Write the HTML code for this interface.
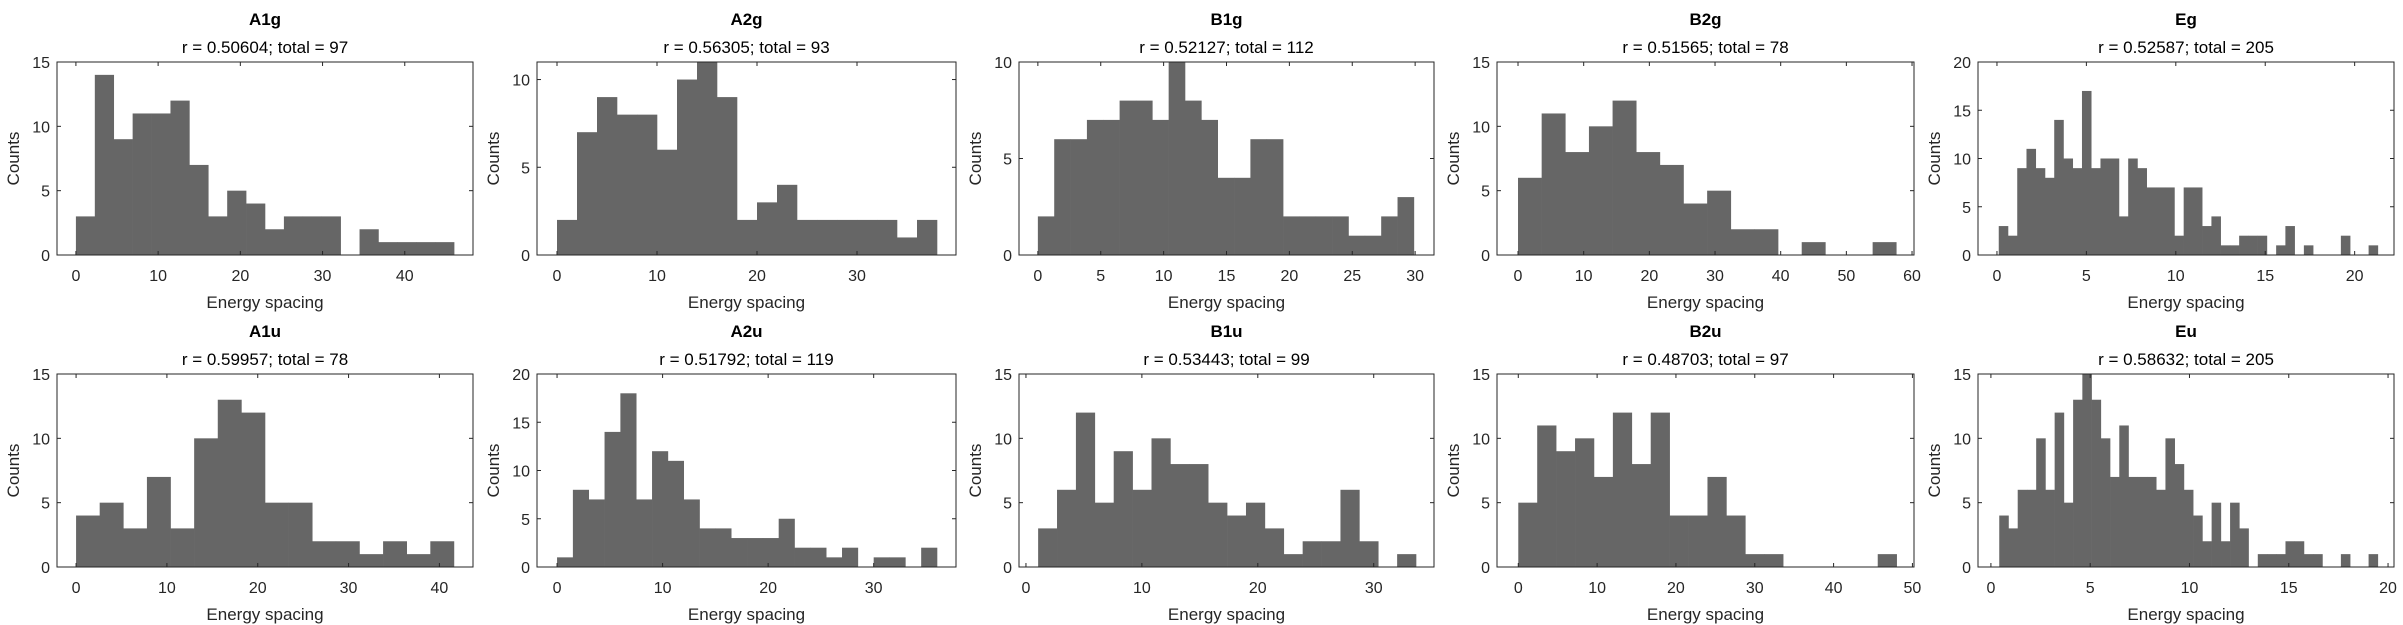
<!DOCTYPE html>
<html><head><meta charset="utf-8"><style>
html,body{margin:0;padding:0;background:#fff;}
svg{display:block;font-family:"Liberation Sans",Arial,sans-serif;}
</style></head><body>
<svg id="fig" width="2403" height="625" viewBox="0 0 2403 625" xmlns="http://www.w3.org/2000/svg"></svg>
<script>
// ---- data ----
const panelNames = ["A1g","A2g","B1g","B2g","Eg","A1u","A2u","B1u","B2u","Eu"];
const rValues = ["0.50604","0.56305","0.52127","0.51565","0.52587","0.59957","0.51792","0.53443","0.48703","0.58632"];
const totals = [97,93,112,78,205,78,119,99,97,205];
const binStarts = [0,0,0,0,0.1,0,0,1.05,0,0.42];
const binWidths = [2.3,2,1.3,3.6,0.517,2.6,1.5,1.63,2.4,0.465];
const countsA1g = [3,14,9,11,11,12,7,3,5,4,2,3,3,3,0,2,1,1,1,1];
const countsA2g = [2,7,9,8,8,6,10,11,9,2,3,4,2,2,2,2,2,1,2];
const countsB1g = [2,6,6,7,7,8,8,7,10,8,7,4,4,6,6,2,2,2,2,1,1,2,3];
const countsB2g = [6,11,8,10,12,8,7,4,5,2,2,0,1,0,0,1];
const countsEg = [3,2,9,11,9,8,14,10,9,17,9,10,10,4,10,9,7,7,7,2,7,7,3,4,1,1,2,2,2,0,1,3,0,1,0,0,0,2,0,0,1];
const countsA1u = [4,5,3,7,3,10,13,12,5,5,2,2,1,2,1,2];
const countsA2u = [1,8,7,14,18,7,12,11,7,4,4,3,3,3,5,2,2,1,2,0,1,1,0,2];
const countsB1u = [3,6,12,5,9,6,10,8,8,5,4,5,3,1,2,2,6,2,0,1];
const countsB2u = [5,11,9,10,7,12,8,12,4,4,7,4,1,1,0,0,0,0,0,1];
const countsEu = [4,3,6,6,10,6,12,5,13,15,13,10,7,11,7,7,7,6,10,8,6,4,2,5,2,5,3,0,1,1,1,2,2,1,1,0,0,1,0,0,1];
const xLimits = [[-2.3,48.3],[-2,39.9],[-1.5,31.5],[-3.2,60.3],[-1.06,22.2],[-2.1,43.7],[-1.9,37.8],[-0.6,35.2],[-2.7,50.2],[-0.65,20.3]];
const yMax = [15,11,10,15,20,15,20,15,15,15];
const xTickSteps = [10,10,5,10,5,10,10,10,10,5];
const xTickMax = [40,30,30,60,20,40,30,30,50,20];
const allCounts = [countsA1g,countsA2g,countsB1g,countsB2g,countsEg,countsA1u,countsA2u,countsB1u,countsB2u,countsEu];

// ---- layout ----
const colX = [[57,473],[537,956],[1019,1434],[1497,1914],[1978,2394]];
const rowY = [[62,255],[374,567]];
const NS = "http://www.w3.org/2000/svg";
const svg = document.getElementById("fig");
function mk(tag, attrs, parent){
  const e = document.createElementNS(NS, tag);
  for (const k in attrs) e.setAttribute(k, attrs[k]);
  (parent||svg).appendChild(e);
  return e;
}
panelNames.forEach((name, i) => {
  const col = i % 5, row = Math.floor(i / 5);
  const [L, R] = colX[col], [T, B] = rowY[row];
  const [x0, x1] = xLimits[i];
  const xs = v => L + (v - x0) / (x1 - x0) * (R - L);
  const ys = v => B - v / yMax[i] * (B - T);
  const g = mk("g", {});
  
  
  const counts = allCounts[i];
  counts.forEach((c, k) => {
    if (c <= 0) return;
    const a = binStarts[i] + k * binWidths[i], b = a + binWidths[i];
    const r = mk("rect", {x: xs(a), y: ys(c), width: xs(b) - xs(a) + 0.3, height: B - ys(c), fill: "#666666"}, g);
    
    
  });
  const box = mk("rect", {x: L, y: T, width: R - L, height: B - T, fill: "none", stroke: "#262626", "stroke-width": 1}, g);
  
  
  for (let v = 0; v <= xTickMax[i] + 1e-9; v += xTickSteps[i]) {
    const x = xs(v);
    mk("line", {x1: x, y1: B, x2: x, y2: B - 4, stroke: "#262626"}, g);
    mk("line", {x1: x, y1: T, x2: x, y2: T + 4, stroke: "#262626"}, g);
    const t = mk("text", {x: x, y: B + 26, "text-anchor": "middle", "font-size": 16, fill: "#262626"}, g);
    t.textContent = v;
    
    
  }
  for (let v = 0; v <= yMax[i]; v += 5) {
    const y = ys(v);
    mk("line", {x1: L, y1: y, x2: L + 4, y2: y, stroke: "#262626"}, g);
    mk("line", {x1: R, y1: y, x2: R - 4, y2: y, stroke: "#262626"}, g);
    const t = mk("text", {x: L - 7, y: y + 6, "text-anchor": "end", "font-size": 16, fill: "#262626"}, g);
    t.textContent = v;
    
    
  }
  const cx = (L + R) / 2;
  const tt = mk("text", {x: cx, y: T - 37, "text-anchor": "middle", "font-size": 17, "font-weight": "bold", fill: "#000"}, g);
  tt.textContent = name;
  
  
  const st = mk("text", {x: cx, y: T - 9, "text-anchor": "middle", "font-size": 17, fill: "#000"}, g);
  st.textContent = "r = " + rValues[i] + "; total = " + totals[i];
  
  
  const xl = mk("text", {x: cx, y: B + 53, "text-anchor": "middle", "font-size": 17, fill: "#262626"}, g);
  xl.textContent = "Energy spacing";
  
  
  const yx = L - 38, yy = (T + B) / 2;
  const yl = mk("text", {x: yx, y: yy, "text-anchor": "middle", "font-size": 17, fill: "#262626", transform: `rotate(-90 ${yx} ${yy})`}, g);
  yl.textContent = "Counts";
  
  
});
</script>
</body></html>
